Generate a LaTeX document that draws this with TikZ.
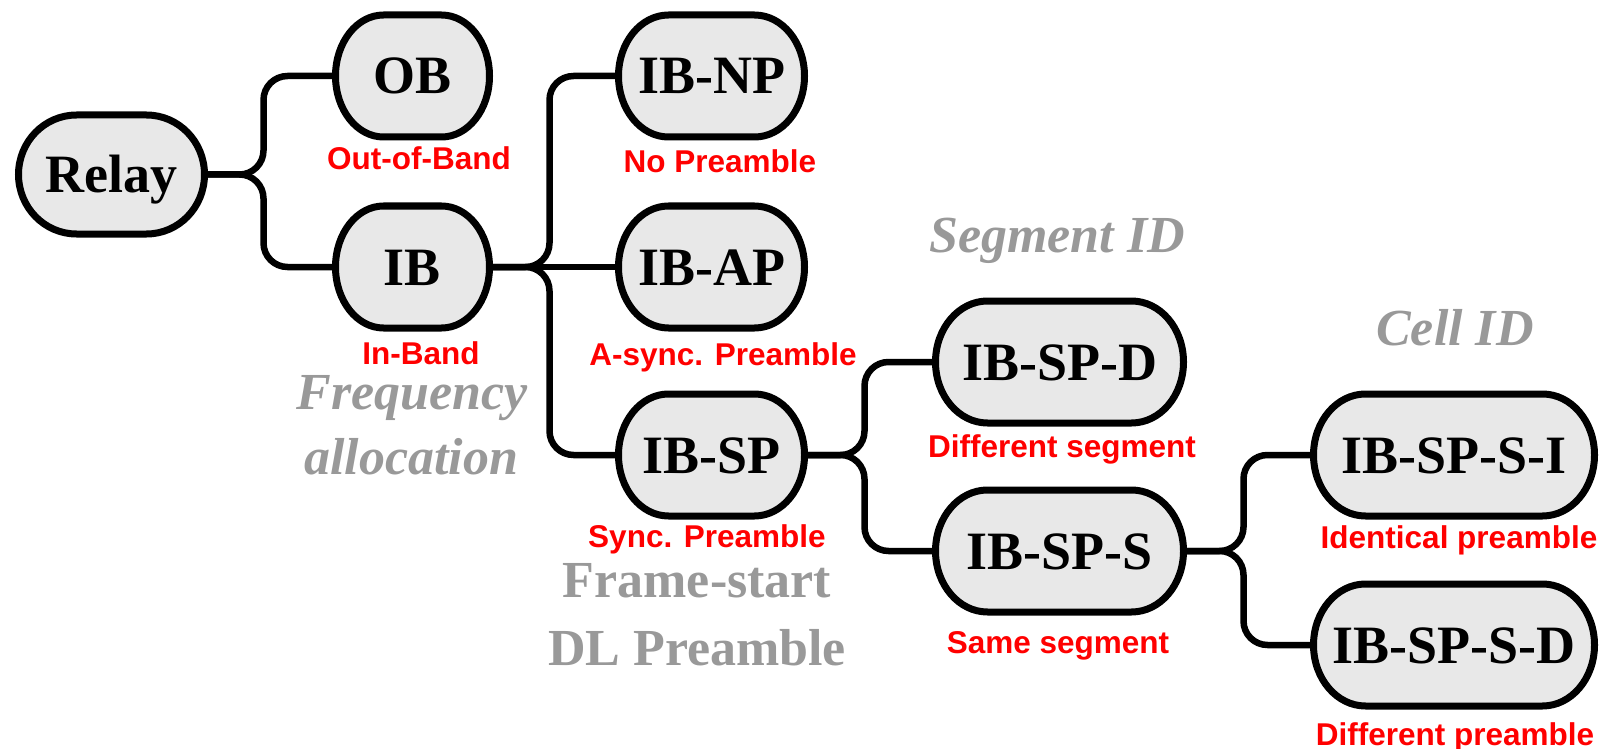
\documentclass[tikz,border=0pt]{standalone}
\usepackage{fontspec}
\setmainfont{Liberation Serif}
\newfontfamily\labelsans{Liberation Sans}
\usetikzlibrary{backgrounds}
\definecolor{pillfill}{HTML}{E8E8E8}
\definecolor{labred}{HTML}{FF0000}
\definecolor{labgray}{HTML}{999999}
\tikzset{
 box/.style={inner sep=0pt, outer sep=0pt, minimum height=122pt, text height=36pt, text depth=0pt, font=\fontsize{54}{60}\selectfont\bfseries},
 pillline/.style={draw=black, line width=7pt, fill=pillfill},
 conn/.style={draw=black, line width=6.5pt, rounded corners=24pt},
 redlbl/.style={text=labred, anchor=base, inner sep=0pt, font=\labelsans\fontsize{31.5}{36}\selectfont\bfseries},
 graylbl/.style={text=labgray, anchor=base, inner sep=0pt, font=\fontsize{52}{60}\selectfont\bfseries\itshape},
 graylblup/.style={text=labgray, anchor=base, inner sep=0pt, font=\fontsize{52}{60}\selectfont\bfseries}
}
\begin{document}
\begin{tikzpicture}[x=1pt,y=1pt]
\useasboundingbox (0,0) rectangle (1610,-749);
% nodes
\node[box, minimum width=186pt, minimum height=119pt] (relay) at (111.5,-174.5) {Relay};
\node[box, minimum width=154pt] (ob) at (412.5,-76) {OB};
\node[box, minimum width=154pt] (ib) at (412.5,-267) {IB};
\node[box, minimum width=186pt] (ibnp) at (711.5,-76) {IB-NP};
\node[box, minimum width=186pt] (ibap) at (711.5,-267) {IB-AP};
\node[box, minimum width=186pt] (ibsp) at (711.5,-455) {IB-SP};
\node[box, minimum width=248pt] (ibspd) at (1059.5,-362) {IB-SP-D};
\node[box, minimum width=248pt] (ibsps) at (1059.5,-551) {IB-SP-S};
\node[box, minimum width=281pt] (ibspsi) at (1454,-455) {IB-SP-S-I};
\node[box, minimum width=281pt] (ibspsd) at (1454,-645) {IB-SP-S-D};
% pill outlines
\begin{scope}[on background layer]
\foreach \n/\r/\h in {relay/58pt/59.5pt, ob/48pt/61pt, ib/48pt/61pt, ibnp/50pt/61pt, ibap/50pt/61pt, ibsp/50pt/61pt, ibspd/52pt/61pt, ibsps/52pt/61pt, ibspsi/52pt/61pt, ibspsd/52pt/61pt}{
 \draw[pillline] ([xshift=\r]\n.north west) -- ([xshift=-\r]\n.north east)
   arc[start angle=90, end angle=-90, x radius=\r, y radius=\h]
   -- ([xshift=\r]\n.south west)
   arc[start angle=270, end angle=90, x radius=\r, y radius=\h] -- cycle;
}
\end{scope}
% connectors
\draw[conn] (relay.east) -- ++(59,0) |- (ob.west);
\draw[conn] (relay.east) -- ++(59,0) |- (ib.west);
\draw[conn] (ib.east) -- ++(60,0) |- (ibnp.west);
\draw[conn] (ib.east) -- (ibap.west);
\draw[conn] (ib.east) -- ++(60,0) |- (ibsp.west);
\draw[conn] (ibsp.east) -- ++(60,0) |- (ibspd.west);
\draw[conn] (ibsp.east) -- ++(60,0) |- (ibsps.west);
\draw[conn] (ibsps.east) -- ++(60,0) |- (ibspsi.west);
\draw[conn] (ibsps.east) -- ++(60,0) |- (ibspsd.west);
% red labels
\node[redlbl] (lob) at (419,-170) {Out-of-Band};
\node[redlbl] (lnp) at (720,-173) {No Preamble};
\node[redlbl] (lib) at (421,-364) {In-Band};
\node[redlbl] (lap) at (723,-365) {A-sync. Preamble};
\node[redlbl] (lsp) at (707,-547) {Sync. Preamble};
\node[redlbl] (lspd) at (1062,-457) {Different segment};
\node[redlbl] (lsps) at (1058,-653) {Same segment};
\node[redlbl] (lspsi) at (1459,-548) {Identical preamble};
\node[redlbl] (lspsd) at (1455,-745) {Different preamble};
% gray labels
\node[graylbl] (freq1) at (412,-409) {Frequency};
\node[graylbl] (freq2) at (411,-474) {allocation};
\node[graylblup] (fs1) at (697,-597) {Frame-start};
\node[graylblup] (fs2) at (697,-665) {DL Preamble};
\node[graylbl] (seg) at (1057,-252) {Segment ID};
\node[graylbl] (cell) at (1455,-345) {Cell ID};
\end{tikzpicture}
\end{document}
